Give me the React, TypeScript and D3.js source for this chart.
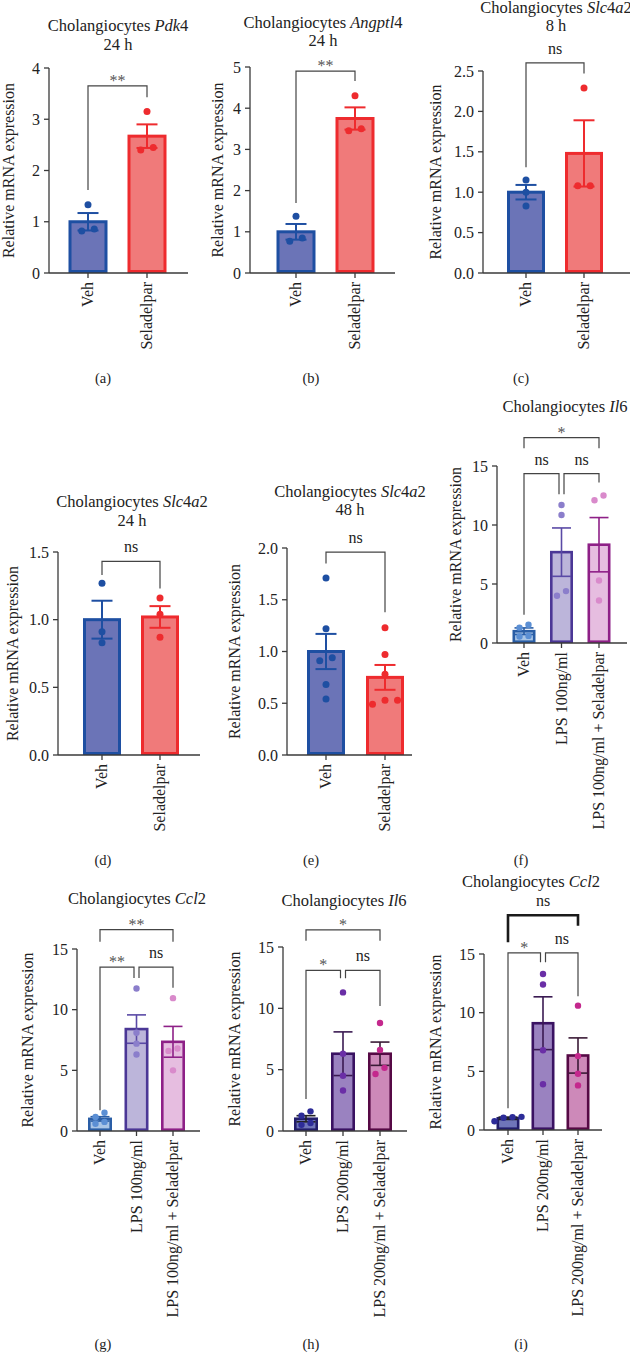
import React from 'react';
import * as d3 from 'd3';

// group names
const vehSel = ['Veh', 'Seladelpar'];
const lps100 = ['Veh', 'LPS 100ng/ml', 'LPS 100ng/ml + Seladelpar'];
const lps200 = ['Veh', 'LPS 200ng/ml', 'LPS 200ng/ml + Seladelpar'];

// (a) Pdk4 24 h
const pdk4Mean = [1.0, 2.67];
const pdk4Sem = [0.17, 0.23];
const pdk4Pts = [[1.33, 0.82, 0.86], [3.15, 2.4, 2.45]];
const pdk4Sig = [{ from: 0, to: 1, top: 3.65, left: 1.62, right: 3.43, label: '**' }];

// (b) Angptl4 24 h
const angMean = [1.0, 3.75];
const angSem = [0.19, 0.27];
const angPts = [[1.38, 0.77, 0.85], [4.3, 3.45, 3.5]];
const angSig = [{ from: 0, to: 1, top: 4.9, left: 1.7, right: 4.66, label: '**' }];

// (c) Slc4a2 8 h
const slc8Mean = [1.0, 1.48];
const slc8Sem = [0.09, 0.41];
const slc8Pts = [[1.15, 1.0, 0.83], [2.29, 1.08, 1.08]];
const slc8Sig = [{ from: 0, to: 1, top: 2.6, left: 1.31, right: 2.47, label: 'ns' }];

// (d) Slc4a2 24 h
const slc24Mean = [1.0, 1.02];
const slc24Sem = [0.14, 0.08];
const slc24Pts = [[1.27, 0.91, 0.83], [1.16, 1.04, 0.87]];
const slc24Sig = [{ from: 0, to: 1, top: 1.43, left: 1.33, right: 1.23, label: 'ns' }];

// (e) Slc4a2 48 h
const slc48Mean = [1.0, 0.75];
const slc48Sem = [0.17, 0.12];
const slc48Pts = [[1.71, 1.22, 0.91, 0.94, 0.68, 0.54], [1.23, 0.97, 0.78, 0.49, 0.53, 0.53]];
const slc48Sig = [{ from: 0, to: 1, top: 1.96, left: 1.85, right: 1.38, label: 'ns' }];

// (f) Il6, LPS 100
const il6aMean = [1.0, 7.7, 8.33];
const il6aSem = [0.28, 2.05, 2.3];
const il6aPts = [[1.3, 1.55, 0.6, 0.55], [11.7, 10.85, 4.0, 4.4], [12.1, 12.5, 5.3, 3.6]];
const il6aSig = [
  { from: 0, to: 2, top: 17.4, left: 16.5, right: 16.5, label: '*' },
  { from: 0, to: 1, top: 14.35, left: 2.4, right: 12.6, label: 'ns' },
  { from: 1, to: 2, top: 14.35, left: 12.6, right: 13.6, label: 'ns' },
];

// (g) Ccl2, LPS 100
const ccl2aMean = [1.0, 8.4, 7.35];
const ccl2aSem = [0.18, 1.17, 1.27];
const ccl2aPts = [[1.5, 1.15, 0.75, 0.6], [11.75, 8.1, 7.2, 6.3], [10.95, 6.8, 6.6, 5.0]];
const ccl2aSig = [
  { from: 0, to: 2, top: 16.6, left: 15.6, right: 15.6, label: '**' },
  { from: 0, to: 1, top: 13.5, left: 1.7, right: 12.6, label: '**' },
  { from: 1, to: 2, top: 13.5, left: 12.6, right: 11.8, label: 'ns' },
];

// (h) Il6, LPS 200
const il6bMean = [1.0, 6.3, 6.3];
const il6bSem = [0.25, 1.78, 0.95];
const il6bPts = [[1.6, 1.25, 0.65, 0.5], [11.3, 6.3, 4.5, 3.3], [8.8, 6.6, 5.15, 4.65]];
const il6bSig = [
  { from: 0, to: 2, top: 16.4, left: 15.5, right: 15.5, label: '*' },
  { from: 0, to: 1, top: 13.1, left: 2.6, right: 12.45, label: '*' },
  { from: 1, to: 2, top: 13.1, left: 12.45, right: 10.2, label: 'ns' },
];

// (i) Ccl2, LPS 200
const ccl2bMean = [1.0, 9.1, 6.35];
const ccl2bSem = [0.1, 2.25, 1.5];
const ccl2bPts = [[1.12, 1.1, 1.05, 0.75], [13.3, 12.4, 6.8, 3.9], [10.6, 6.3, 4.8, 3.8]];
const ccl2bSig = [
  { from: 0, to: 2, top: 18.3, left: 16.0, right: 17.4, label: 'ns' },
  { from: 0, to: 1, top: 15.1, left: 1.85, right: 14.3, label: '*' },
  { from: 1, to: 2, top: 15.1, left: 14.3, right: 11.4, label: 'ns' },
];

const FONT = "'Liberation Serif', 'Times New Roman', serif";
const AXIS = '#3a3a3a';

const blueRed = {
  fill: ['#6b74b7', '#f07a7a'],
  stroke: ['#1e4fa2', '#ee2b2e'],
  dot: ['#1e4fa2', '#ee2b2e'],
  err: ['#1e4fa2', '#ee2b2e'],
};
const lightLps = {
  fill: ['#a9c5e6', '#bcb5da', '#e6bde0'],
  stroke: ['#2a5ea6', '#4b3796', '#8e2087'],
  dot: ['#5b8fd4', '#8b7ecb', '#d98acb'],
  err: ['#2a5ea6', '#5a4aa6', '#8e2087'],
};
const darkLps = {
  fill: ['#6f75b9', '#9a82c0', '#cd89b9'],
  stroke: ['#221d6b', '#3a1262', '#560945'],
  dot: ['#2d2c98', '#6a2ea6', '#c4288d'],
  err: ['#222222', '#3a1a52', '#3a1a36'],
};

const panels = [
  {
    gene: 'Pdk4', sub: '24 h', groups: vehSel, mean: pdk4Mean, sem: pdk4Sem, pts: pdk4Pts, sig: pdk4Sig,
    yMax: 4, yStep: 1, tag: '(a)', pal: blueRed,
    lay: { x0: 49, x1: 188, yTop: 68, yBase: 273, c: [88, 147], barW: 39, titleX: 118, titleY: [31, 50], labX: 14, tagX: 103, tagY: 383 },
  },
  {
    gene: 'Angptl4', sub: '24 h', groups: vehSel, mean: angMean, sem: angSem, pts: angPts, sig: angSig,
    yMax: 5, yStep: 1, tag: '(b)', pal: blueRed,
    lay: { x0: 250, x1: 395, yTop: 67, yBase: 273, c: [296, 355], barW: 39, titleX: 323, titleY: [28, 46], labX: 223, tagX: 311, tagY: 383 },
  },
  {
    gene: 'Slc4a2', sub: '8 h', groups: vehSel, mean: slc8Mean, sem: slc8Sem, pts: slc8Pts, sig: slc8Sig,
    yMax: 2.5, yStep: 0.5, tag: '(c)', pal: blueRed,
    lay: { x0: 483, x1: 632, yTop: 71, yBase: 273, c: [526, 584], barW: 38, titleX: 556, titleY: [13, 31], labX: 441, tagX: 521, tagY: 383 },
  },
  {
    gene: 'Slc4a2', sub: '24 h', groups: vehSel, mean: slc24Mean, sem: slc24Sem, pts: slc24Pts, sig: slc24Sig,
    yMax: 1.5, yStep: 0.5, tag: '(d)', pal: blueRed,
    lay: { x0: 58, x1: 200, yTop: 552, yBase: 755, c: [102, 160], barW: 38, titleX: 132, titleY: [507, 526], labX: 18, tagX: 103, tagY: 865 },
  },
  {
    gene: 'Slc4a2', sub: '48 h', groups: vehSel, mean: slc48Mean, sem: slc48Sem, pts: slc48Pts, sig: slc48Sig,
    yMax: 2, yStep: 0.5, tag: '(e)', pal: blueRed,
    lay: { x0: 287, x1: 412, yTop: 548, yBase: 755, c: [326, 385], barW: 38, titleX: 350, titleY: [497, 515], labX: 240, tagX: 311, tagY: 865 },
  },
  {
    gene: 'Il6', sub: '', groups: lps100, mean: il6aMean, sem: il6aSem, pts: il6aPts, sig: il6aSig,
    yMax: 15, yStep: 5, tag: '(f)', pal: lightLps,
    lay: { x0: 497, x1: 627, yTop: 466, yBase: 643, c: [524, 599], barW: 23, titleX: 565, titleY: [412], labX: 461, tagX: 521, tagY: 865 },
  },
  {
    gene: 'Ccl2', sub: '', groups: lps100, mean: ccl2aMean, sem: ccl2aSem, pts: ccl2aPts, sig: ccl2aSig,
    yMax: 15, yStep: 5, tag: '(g)', pal: lightLps,
    lay: { x0: 77, x1: 200, yTop: 949, yBase: 1131, c: [100, 173], barW: 24, titleX: 137, titleY: [904], labX: 33, tagX: 103, tagY: 1349 },
  },
  {
    gene: 'Il6', sub: '', groups: lps200, mean: il6bMean, sem: il6bSem, pts: il6bPts, sig: il6bSig,
    yMax: 15, yStep: 5, tag: '(h)', pal: darkLps,
    lay: { x0: 283, x1: 407, yTop: 947, yBase: 1131, c: [306, 380], barW: 24, titleX: 344, titleY: [906], labX: 240, tagX: 311, tagY: 1349 },
  },
  {
    gene: 'Ccl2', sub: '', groups: lps200, mean: ccl2bMean, sem: ccl2bSem, pts: ccl2bPts, sig: ccl2bSig,
    yMax: 15, yStep: 5, tag: '(i)', pal: darkLps, heavy: 0,
    lay: { x0: 484, x1: 602, yTop: 954, yBase: 1130, c: [508, 578], barW: 23, titleX: 531, titleY: [887], labX: 441, tagX: 521, tagY: 1349 },
  },
];

// gene symbols: letters in italics, digits upright
const Gene = ({ name }: { name: string }) => (
  <>
    {(name.match(/[A-Za-z]+|\d+/g) || []).map((s, i) => (
      <tspan key={i} fontStyle={/\d/.test(s) ? 'normal' : 'italic'}>{s}</tspan>
    ))}
  </>
);

// spread points that sit at nearly the same height into a centred row
function swarm(vals: number[], y: (v: number) => number, r: number, spacing: number) {
  const order = vals.map((v, i) => ({ v, i })).sort((a, b) => a.v - b.v);
  const out = new Array(vals.length).fill(0);
  let row: { v: number; i: number }[] = [];
  const flush = () => {
    row.forEach((p, k) => { out[p.i] = (k - (row.length - 1) / 2) * spacing; });
    row = [];
  };
  order.forEach(p => {
    if (row.length && Math.abs(y(row[0].v) - y(p.v)) >= 2 * r) flush();
    row.push(p);
  });
  flush();
  return out;
}

const Panel = ({ p }: { p: any }) => {
  const { lay, pal } = p;
  const y = d3.scaleLinear().domain([0, p.yMax]).range([lay.yBase, lay.yTop]);
  const x = d3.scalePoint<string>().domain(p.groups).range(lay.c);
  const ticks = d3.range(0, p.yMax + 1e-9, p.yStep);
  const fmt = p.yStep < 1 ? d3.format('.1f') : d3.format('d');
  const wide = p.groups.length === 2;
  const sw = wide ? 3 : 2.6;
  const r = wide ? 3.5 : 3.2;
  const cap = wide ? 21 : 19;
  const gap = wide ? 0 : 2.5;
  const yMid = (lay.yTop + lay.yBase) / 2;

  return (
    <g fontFamily={FONT} fill="#222">
      {lay.titleY.map((ty: number, i: number) => (
        <text key={i} x={lay.titleX} y={ty} textAnchor="middle" fontSize={16.5}>
          {i === 0 ? (<>Cholangiocytes <Gene name={p.gene} /></>) : p.sub}
        </text>
      ))}

      {/* bars */}
      {p.groups.map((g: string, i: number) => {
        const cx = x(g)!;
        const w = lay.barW - sw;
        return (
          <rect key={g} x={cx - w / 2} y={y(p.mean[i])} width={w} height={lay.yBase - y(p.mean[i]) - sw / 2}
            fill={pal.fill[i]} stroke={pal.stroke[i]} strokeWidth={sw} />
        );
      })}

      {/* mean ± SEM */}
      {p.groups.map((g: string, i: number) => {
        const cx = x(g)!;
        const hi = y(p.mean[i] + p.sem[i]);
        const lo = y(p.mean[i] - p.sem[i]);
        return (
          <g key={g} stroke={pal.err[i]} strokeWidth={wide ? 2 : 1.6}>
            <line x1={cx} x2={cx} y1={hi} y2={lo} />
            <line x1={cx - cap / 2} x2={cx + cap / 2} y1={hi} y2={hi} />
            <line x1={cx - cap / 2} x2={cx + cap / 2} y1={lo} y2={lo} />
          </g>
        );
      })}

      {/* individual samples */}
      {p.groups.map((g: string, i: number) => {
        const cx = x(g)!;
        const offs = swarm(p.pts[i], y, r, wide ? 12.5 : 9);
        return p.pts[i].map((v: number, k: number) => (
          <circle key={`${g}-${k}`} cx={cx + offs[k]} cy={y(v)} r={r} fill={pal.dot[i]} />
        ));
      })}

      {/* axes */}
      <g stroke={AXIS} strokeWidth={1.3} fill="none">
        <line x1={lay.x0} x2={lay.x0} y1={lay.yBase} y2={y(p.yMax)} />
        <line x1={lay.x0} x2={lay.x1} y1={lay.yBase} y2={lay.yBase} />
        {ticks.map(t => (
          <line key={t} x1={lay.x0 - 5} x2={lay.x0} y1={y(t)} y2={y(t)} />
        ))}
        {p.groups.map((g: string) => (
          <line key={g} x1={x(g)} x2={x(g)} y1={lay.yBase} y2={lay.yBase + 5} />
        ))}
      </g>
      {ticks.map(t => (
        <text key={t} x={lay.x0 - 9} y={y(t)} dy="0.35em" textAnchor="end" fontSize={16}>{fmt(t)}</text>
      ))}
      {p.groups.map((g: string) => (
        <text key={g} transform={`translate(${x(g)},${lay.yBase + 9}) rotate(-90)`} dy="0.33em"
          textAnchor="end" fontSize={16}>{g}</text>
      ))}
      <text transform={`translate(${lay.labX},${yMid}) rotate(-90)`} textAnchor="middle" fontSize={16}>
        Relative mRNA expression
      </text>

      {/* significance brackets */}
      {p.sig.map((b: any, i: number) => {
        const xa = x(p.groups[b.from])! + (b.from === 1 ? gap : 0);
        const xb = x(p.groups[b.to])! - (b.to === 1 ? gap : 0);
        const heavy = p.heavy === i;
        const star = b.label !== 'ns';
        return (
          <g key={i}>
            <path d={`M${xa},${y(b.left)}V${y(b.top)}H${xb}V${y(b.right)}`} fill="none"
              stroke={heavy ? '#1a1a1a' : '#444'} strokeWidth={heavy ? 2.6 : 1.2} />
            <text x={(xa + xb) / 2} y={y(b.top) - (star ? 0 : 9)} textAnchor="middle" fontSize={16}
              fill={star ? '#555' : '#222'}>{b.label}</text>
          </g>
        );
      })}

      <text x={lay.tagX} y={lay.tagY} textAnchor="middle" fontSize={14.5}>{p.tag}</text>
    </g>
  );
};

export default function App() {
  return (
    <>
      <style>{'body{margin:0}'}</style>
      <svg width={630} height={1355} viewBox="0 0 630 1355" style={{ display: 'block', background: '#fff' }}>
        {panels.map((p, i) => <Panel key={i} p={p} />)}
      </svg>
    </>
  );
}
